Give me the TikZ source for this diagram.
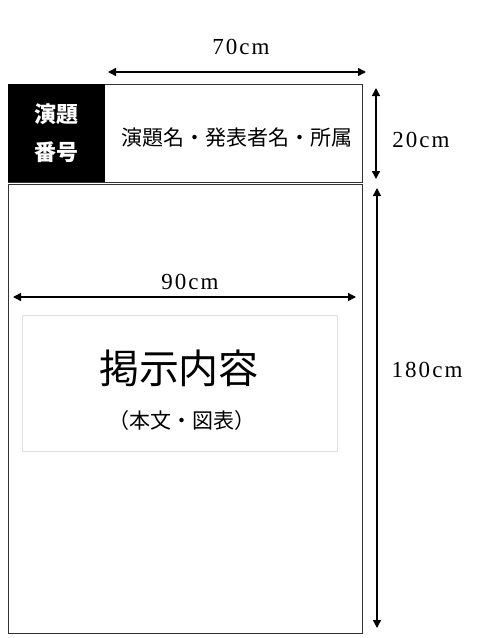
\documentclass[tikz,border=0pt]{standalone}
\usepackage{fontspec}
\setmainfont{Liberation Serif}
\newfontfamily\dimfont[LetterSpace=9]{Liberation Serif}
\newfontfamily\jp{Noto Sans CJK JP}
\usetikzlibrary{arrows.meta, positioning}
\tikzset{dim/.style={{Triangle[width=8pt,length=8pt]}-{Triangle[width=8pt,length=8pt]},line width=1.4pt},
         dimtext/.style={font=\dimfont\fontsize{23}{26}\selectfont,inner sep=0pt}}

\begin{document}
\begin{tikzpicture}[x=1pt,y=-1pt]
            \useasboundingbox (0,0) rectangle (477,638);
            \node (head) at(8,84) [anchor=north west,draw=black!80,line width=1.2pt,minimum width=354pt,minimum height=98pt,inner sep=0pt] {};
            \node (body) at(8,184) [anchor=north west,draw=black!80,line width=1.2pt,minimum width=354pt,minimum height=449pt,inner sep=0pt] {};
            \node (number) at(8,84) [anchor=north west,fill=black,minimum width=97pt,minimum height=98pt,inner sep=0pt,text=white,align=center,font=\jp\bfseries\fontsize{22}{38}\selectfont] {演題\\番号};
            \node (title) at(237,138) [font=\jp\fontsize{21}{24}\selectfont,inner sep=0pt] {演題名・発表者名・所属};
            \node (content) at(180,383) [draw=black!12,minimum width=315pt,minimum height=136pt,inner sep=0pt] {};
            \node (main) at(179,368) [font=\jp\fontsize{40}{44}\selectfont,inner sep=0pt] {掲示内容};
            \node (sub) at(182,421) [font=\jp\fontsize{21}{24}\selectfont,inner sep=0pt] {（本文・図表）};
            
            \coordinate (w1) at(108,72);
            \coordinate (w2) at(366,72);
            \coordinate (h1) at(376,88);
            \coordinate (h2) at(376,179);
            \coordinate (b1) at(377,188);
            \coordinate (b2) at(377,628);
            \coordinate (c1) at(13,297);
            \coordinate (c2) at(356,297);
            
            \draw[dim] (w1) -- (w2);
            \draw[dim] (h1) -- (h2);
            \draw[dim] (b1) -- (b2);
            \draw[dim] (c1) -- (c2);
            
            \node[dimtext] (width top) at(241,47) {70cm};
            \node[dimtext] (height head) at(421,140) {20cm};
            \node[dimtext] (height body) at(427,370) {180cm};
            \node[dimtext] (width body) at(190,282) {90cm};

        \end{tikzpicture}
\end{document}
